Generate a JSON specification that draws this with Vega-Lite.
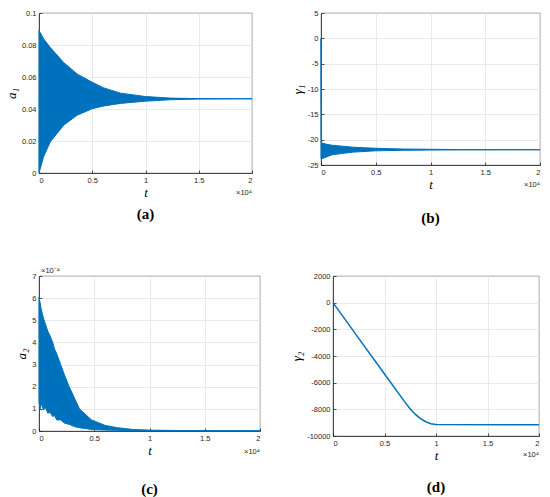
{
  "$schema": "https://vega.github.io/schema/vega-lite/v6.json",
  "padding": {"left": 5, "top": 8, "right": 0, "bottom": 0},
  "background": "white",
  "config": {
    "view": {"stroke": "#262626", "strokeWidth": 0.8},
    "axis": {
      "labelFont": "Liberation Sans", "labelFontSize": 7.5, "labelColor": "#262626", "labelOverlap": false,
      "titleFont": "Liberation Serif", "titleFontStyle": "italic", "titleFontWeight": "normal",
      "titleFontSize": 13, "titleColor": "#000000",
      "gridColor": "#e3e3e3", "gridWidth": 0.8,
      "domainColor": "#262626", "domainWidth": 0.8,
      "tickColor": "#262626", "tickWidth": 0.8, "tickSize": -3, "labelPadding": 6,
      "titlePadding": 3
    },
    "title": {"font": "Liberation Serif", "fontSize": 15, "fontWeight": "bold", "orient": "bottom", "color": "#000000"}
  },
  "datasets": {
    "a": [
      {"t": 0, "hi": 0.0891, "lo": 0.0},
      {"t": 440, "hi": 0.0838, "lo": 0.0103},
      {"t": 1066, "hi": 0.0784, "lo": 0.0196},
      {"t": 2320, "hi": 0.069, "lo": 0.0299},
      {"t": 3574, "hi": 0.0619, "lo": 0.0361},
      {"t": 5000, "hi": 0.0567, "lo": 0.0402},
      {"t": 6082, "hi": 0.0532, "lo": 0.0419},
      {"t": 7650, "hi": 0.0499, "lo": 0.0435},
      {"t": 10000, "hi": 0.0478, "lo": 0.0449},
      {"t": 12350, "hi": 0.0468, "lo": 0.0458},
      {"t": 15000, "hi": 0.0465, "lo": 0.0462},
      {"t": 20000, "hi": 0.0464, "lo": 0.0464}
    ],
    "b": [
      {"t": 0, "hi": 0, "lo": -23.6},
      {"t": 30, "hi": -20.6, "lo": -23.8},
      {"t": 500, "hi": -20.9, "lo": -23.4},
      {"t": 1000, "hi": -21.1, "lo": -23.0},
      {"t": 2000, "hi": -21.3, "lo": -22.7},
      {"t": 3000, "hi": -21.5, "lo": -22.45},
      {"t": 5000, "hi": -21.7, "lo": -22.2},
      {"t": 7500, "hi": -21.85, "lo": -22.1},
      {"t": 10000, "hi": -21.9, "lo": -22.05},
      {"t": 13000, "hi": -21.95, "lo": -22.02},
      {"t": 20000, "hi": -21.97, "lo": -22.0}
    ],
    "c": [
      {"t": 0, "hi": 0.000605, "lo": 0.00013},
      {"t": 100, "hi": 0.00058, "lo": 0.0001},
      {"t": 200, "hi": 0.00055, "lo": 0.000125},
      {"t": 400, "hi": 0.00051, "lo": 0.000095},
      {"t": 600, "hi": 0.00048, "lo": 0.000105},
      {"t": 800, "hi": 0.00045, "lo": 0.00008},
      {"t": 1000, "hi": 0.00043, "lo": 0.000085},
      {"t": 1240, "hi": 0.0004, "lo": 0.000065},
      {"t": 1400, "hi": 0.00037, "lo": 0.00007},
      {"t": 1600, "hi": 0.00035, "lo": 0.00005},
      {"t": 1960, "hi": 0.0003, "lo": 0.00005},
      {"t": 2330, "hi": 0.00025, "lo": 0.000035},
      {"t": 2730, "hi": 0.0002, "lo": 0.00003},
      {"t": 3200, "hi": 0.00015, "lo": 0.00002},
      {"t": 3660, "hi": 0.0001, "lo": 0.000015},
      {"t": 4750, "hi": 0.00005, "lo": 0.000007},
      {"t": 6000, "hi": 0.000025, "lo": 0.000004},
      {"t": 7100, "hi": 0.000015, "lo": 0.000003},
      {"t": 8500, "hi": 0.000007, "lo": 0.000002},
      {"t": 10000, "hi": 0.000004, "lo": 0.000001},
      {"t": 13000, "hi": 0.000002, "lo": 0.0000005},
      {"t": 20000, "hi": 0.000001, "lo": 0.0000005}
    ],
    "d": [
      {"t": 0, "g": 0},
      {"t": 2500, "g": -2680},
      {"t": 5000, "g": -5350},
      {"t": 7000, "g": -7480},
      {"t": 7500, "g": -7980},
      {"t": 8000, "g": -8380},
      {"t": 8500, "g": -8700},
      {"t": 9000, "g": -8930},
      {"t": 9500, "g": -9080},
      {"t": 10000, "g": -9140},
      {"t": 20000, "g": -9150}
    ]
  },
  "columns": 2,
  "align": {"row": "all", "column": "none"},
  "spacing": {"row": 32, "column": 27},
  "concat": [
    {
      "width": 213, "height": 160,
      "title": {"text": "(a)", "offset": 7},
      "layer": [
        {
          "data": {"name": "a"},
          "mark": {"type": "area", "color": "#0072BD", "stroke": "#0072BD", "strokeWidth": 1},
          "encoding": {
            "x": {"field": "t", "type": "quantitative", "title": "t",
              "scale": {"domain": [0, 20000], "nice": false},
              "axis": {"tickCount": 10, "values": [0, 5000, 10000, 15000, 20000], "labelExpr": "format(datum.value/10000, '~g')"}},
            "y": {"field": "hi", "type": "quantitative", "title": "a₁",
              "scale": {"domain": [0, 0.1], "nice": false},
              "axis": {"tickCount": 12, "values": [0, 0.02, 0.04, 0.06, 0.08, 0.1], "labelExpr": "format(datum.value, '~g')"}},
            "y2": {"field": "lo"}
          }
        },
        {
          "data": {"values": [{}]},
          "mark": {"type": "text", "text": "×10⁴", "align": "right", "baseline": "middle", "dy": 20, "font": "Liberation Sans", "fontSize": 7.5, "color": "#262626"},
          "encoding": {"x": {"datum": 20000}, "y": {"datum": 0}}
        }
      ]
    },
    {
      "width": 219, "height": 152,
      "title": {"text": "(b)", "offset": 19},
      "layer": [
        {
          "data": {"name": "b"},
          "mark": {"type": "area", "color": "#0072BD", "stroke": "#0072BD", "strokeWidth": 1},
          "encoding": {
            "x": {"field": "t", "type": "quantitative", "title": "t",
              "scale": {"domain": [0, 20000], "nice": false},
              "axis": {"tickCount": 10, "values": [0, 5000, 10000, 15000, 20000], "labelExpr": "format(datum.value/10000, '~g')"}},
            "y": {"field": "hi", "type": "quantitative", "title": "γ₁",
              "scale": {"domain": [-25, 5], "nice": false},
              "axis": {"tickCount": 12, "values": [-25, -20, -15, -10, -5, 0, 5], "labelExpr": "replace(format(datum.value, '~g'), '−', '-')"}},
            "y2": {"field": "lo"}
          }
        },
        {
          "data": {"values": [{}]},
          "mark": {"type": "text", "text": "×10⁴", "align": "right", "baseline": "middle", "dy": 20, "font": "Liberation Sans", "fontSize": 7.5, "color": "#262626"},
          "encoding": {"x": {"datum": 20000}, "y": {"datum": -25}}
        }
      ]
    },
    {
      "width": 221, "height": 155,
      "title": {"text": "(c)", "offset": 24},
      "layer": [
        {
          "data": {"name": "c"},
          "mark": {"type": "area", "color": "#0072BD", "stroke": "#0072BD", "strokeWidth": 1},
          "encoding": {
            "x": {"field": "t", "type": "quantitative", "title": "t",
              "scale": {"domain": [0, 20000], "nice": false},
              "axis": {"tickCount": 10, "values": [0, 5000, 10000, 15000, 20000], "labelExpr": "format(datum.value/10000, '~g')"}},
            "y": {"field": "hi", "type": "quantitative", "title": "a₂",
              "scale": {"domain": [0, 0.0007], "nice": false},
              "axis": {"tickCount": 12, "values": [0, 0.0001, 0.0002, 0.0003, 0.0004, 0.0005, 0.0006, 0.0007], "labelExpr": "format(datum.value*10000, '.0f')"}},
            "y2": {"field": "lo"}
          }
        },
        {
          "data": {"values": [{}]},
          "mark": {"type": "text", "text": "×10⁴", "align": "right", "baseline": "middle", "dy": 21, "font": "Liberation Sans", "fontSize": 7.5, "color": "#262626"},
          "encoding": {"x": {"datum": 20000}, "y": {"datum": 0}}
        },
        {
          "data": {"values": [{}]},
          "mark": {"type": "text", "text": "×10⁻⁴", "align": "left", "baseline": "middle", "dx": 2, "dy": -5, "font": "Liberation Sans", "fontSize": 7.5, "color": "#262626"},
          "encoding": {"x": {"datum": 0}, "y": {"datum": 0.0007}}
        }
      ]
    },
    {
      "width": 206, "height": 160,
      "title": {"text": "(d)", "offset": 17},
      "layer": [
        {
          "data": {"name": "d"},
          "mark": {"type": "line", "color": "#0072BD", "strokeWidth": 1.5},
          "encoding": {
            "x": {"field": "t", "type": "quantitative", "title": "t",
              "scale": {"domain": [0, 20000], "nice": false},
              "axis": {"tickCount": 10, "values": [0, 5000, 10000, 15000, 20000], "labelExpr": "format(datum.value/10000, '~g')"}},
            "y": {"field": "g", "type": "quantitative", "title": "γ₂",
              "scale": {"domain": [-10000, 2000], "nice": false},
              "axis": {"tickCount": 12, "values": [-10000, -8000, -6000, -4000, -2000, 0, 2000], "labelExpr": "replace(format(datum.value, 'd'), '−', '-')"}}
          }
        },
        {
          "data": {"values": [{}]},
          "mark": {"type": "text", "text": "×10⁴", "align": "right", "baseline": "middle", "dy": 19, "font": "Liberation Sans", "fontSize": 7.5, "color": "#262626"},
          "encoding": {"x": {"datum": 20000}, "y": {"datum": -10000}}
        }
      ]
    }
  ]
}
